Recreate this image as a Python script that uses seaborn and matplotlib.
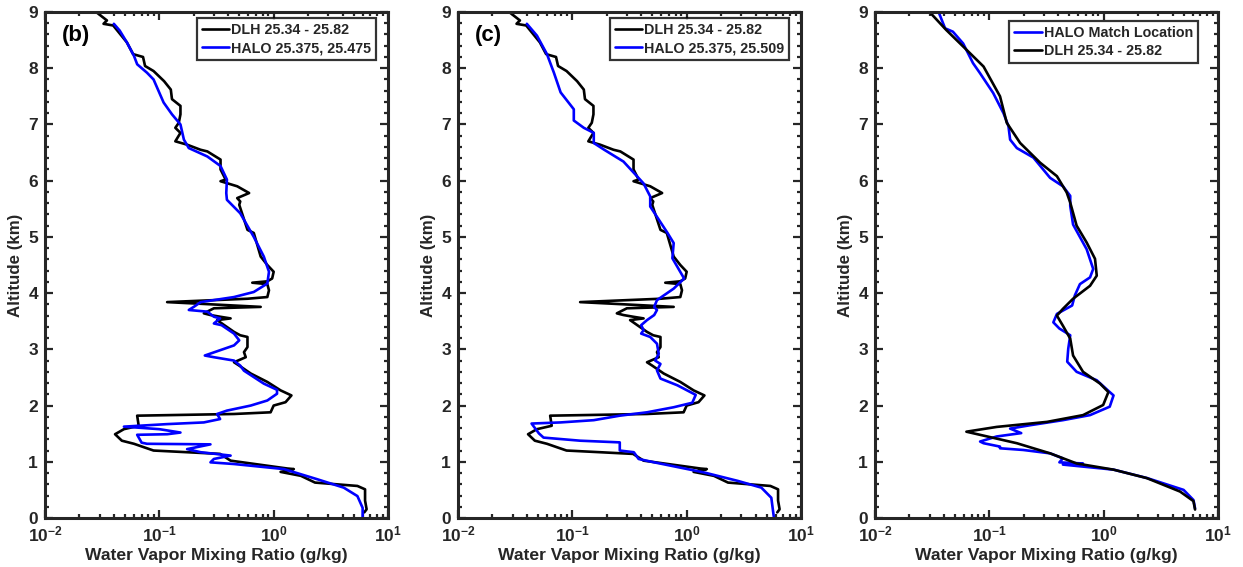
import numpy as np
import pandas as pd
import matplotlib
matplotlib.use("Agg")
import matplotlib.pyplot as plt
import seaborn as sns
from matplotlib.ticker import FixedLocator, FuncFormatter, LogLocator, NullFormatter, MultipleLocator

# ---------------- data ----------------
dlh_alt = [8.99, 8.85, 8.79, 8.76, 8.46, 8.25, 8.2, 8.04, 7.95, 7.77, 7.62, 7.45, 7.33, 7.18, 7.03, 6.94,
           6.85, 6.70, 6.64, 6.55, 6.52, 6.375, 6.20, 6.02, 5.99, 5.90, 5.78, 5.69, 5.63, 5.57, 5.125, 5.07,
           4.65, 4.5, 4.38, 4.26, 4.21, 4.185, 4.16, 4.05, 3.93, 3.90, 3.84, 3.81, 3.755, 3.73, 3.64, 3.61,
           3.58, 3.55, 3.52, 3.43, 3.31, 3.25, 3.22, 3.04, 2.95, 2.86, 2.77, 2.71, 2.57, 2.42, 2.27, 2.18,
           2.06, 2.0, 1.88, 1.85, 1.82, 1.64, 1.58, 1.49, 1.375, 1.32, 1.26, 1.20, 1.17, 1.14, 1.02, 0.88,
           0.87, 0.82, 0.75, 0.63, 0.57, 0.51, 0.31, 0.155, 0.10]
dlh_q = [0.0284, 0.0348, 0.0325, 0.0395, 0.052, 0.059, 0.072, 0.075, 0.089, 0.11, 0.126, 0.129, 0.153, 0.153,
         0.148, 0.138, 0.153, 0.138, 0.175, 0.229, 0.263, 0.343, 0.343, 0.38, 0.343, 0.48, 0.61, 0.48, 0.51,
         0.50, 0.59, 0.67, 0.77, 0.88, 1.0, 0.97, 0.88, 0.65, 0.88, 0.91, 0.88, 0.59, 0.117, 0.23, 0.77, 0.30,
         0.245, 0.28, 0.34, 0.42, 0.32, 0.37, 0.45, 0.51, 0.59, 0.59, 0.55, 0.57, 0.45, 0.50, 0.63, 0.88, 1.15,
         1.43, 1.27, 1.0, 0.94, 0.45, 0.064, 0.066, 0.049, 0.041, 0.047, 0.060, 0.073, 0.089, 0.175, 0.34,
         0.42, 1.32, 1.5, 1.15, 1.73, 2.3, 5.4, 6.3, 6.3, 6.5, 6.2]

halo_b_alt = [8.79, 8.67, 8.46, 8.22, 8.07, 7.92, 7.80, 7.39, 7.18, 7.0, 6.73, 6.58, 6.43, 6.26, 6.02, 5.78,
              5.66, 5.42, 5.0, 4.65, 4.38, 4.17, 4.02, 3.93, 3.84, 3.755, 3.70, 3.67, 3.58, 3.55, 3.46, 3.43,
              3.28, 3.16, 3.07, 3.01, 2.89, 2.86, 2.80, 2.71, 2.62, 2.39, 2.28, 2.21, 2.09, 2.0, 1.91, 1.85,
              1.76, 1.70, 1.67, 1.625, 1.58, 1.52, 1.49, 1.48, 1.34, 1.32, 1.31, 1.225, 1.17, 1.11, 1.05, 0.99,
              0.96, 0.87, 0.69, 0.54, 0.39, 0.18, 0.02]
halo_b_q = [0.040, 0.045, 0.052, 0.060, 0.064, 0.078, 0.089, 0.109, 0.129, 0.153, 0.164, 0.181, 0.263, 0.343,
            0.39, 0.385, 0.39, 0.51, 0.67, 0.82, 0.91, 0.88, 0.67, 0.45, 0.23, 0.20, 0.181, 0.263, 0.30, 0.34,
            0.30, 0.35, 0.45, 0.50, 0.45, 0.37, 0.25, 0.30, 0.45, 0.51, 0.55, 0.82, 1.07, 1.07, 0.88, 0.63,
            0.39, 0.32, 0.34, 0.245, 0.117, 0.049, 0.10, 0.153, 0.117, 0.064, 0.070, 0.078, 0.28, 0.175, 0.23,
            0.42, 0.30, 0.28, 0.45, 1.23, 2.4, 4.1, 5.4, 6.0, 6.0]

halo_c_alt = [8.79, 8.58, 8.25, 7.92, 7.57, 7.27, 7.07, 6.94, 6.85, 6.67, 6.55, 6.34, 6.14, 5.95, 5.72, 5.54,
              5.07, 4.89, 4.62, 4.26, 4.08, 3.875, 3.755, 3.70, 3.61, 3.52, 3.43, 3.34, 3.28, 3.22, 3.10, 2.92,
              2.80, 2.74, 2.625, 2.48, 2.36, 2.19, 2.05, 1.97, 1.88, 1.82, 1.74, 1.70, 1.68, 1.505, 1.43, 1.375,
              1.345, 1.20, 1.17, 1.05, 0.99, 0.81, 0.66, 0.54, 0.36, 0.0]
halo_c_q = [0.040, 0.049, 0.060, 0.069, 0.079, 0.103, 0.103, 0.126, 0.154, 0.154, 0.19, 0.28, 0.345, 0.42, 0.48,
            0.48, 0.68, 0.77, 0.75, 0.95, 0.77, 0.55, 0.52, 0.55, 0.52, 0.45, 0.40, 0.42, 0.40, 0.48, 0.55,
            0.57, 0.53, 0.59, 0.55, 0.59, 0.83, 1.2, 1.12, 0.77, 0.45, 0.26, 0.154, 0.079, 0.044, 0.051, 0.056,
            0.117, 0.26, 0.26, 0.345, 0.38, 0.52, 1.42, 2.8, 4.5, 5.5, 5.8]

dlh_s_alt = [9.0, 8.68, 8.33, 8.03, 7.5, 7.03, 6.67, 6.32, 6.08, 5.79, 5.61, 5.20, 4.90, 4.61, 4.31, 4.13, 3.90,
             3.72, 3.60, 3.42, 3.19, 2.89, 2.60, 2.39, 2.24, 2.01, 1.83, 1.71, 1.62, 1.535, 1.45, 1.33, 1.15,
             0.97, 0.86, 0.71, 0.47, 0.30, 0.15]
dlh_s_q = [0.030, 0.042, 0.063, 0.089, 0.124, 0.142, 0.186, 0.278, 0.39, 0.475, 0.51, 0.58, 0.71, 0.84, 0.87,
           0.76, 0.54, 0.44, 0.39, 0.44, 0.51, 0.54, 0.66, 0.93, 1.10, 0.99, 0.66, 0.32, 0.116, 0.063, 0.096,
           0.174, 0.34, 0.58, 1.22, 2.38, 4.66, 6.1, 6.3]

halo_m_alt = [9.0, 8.71, 8.65, 8.44, 8.09, 7.91, 7.56, 7.20, 6.97, 6.73, 6.58, 6.41, 6.05, 5.90, 5.73, 5.55,
              5.22, 4.78, 4.43, 4.28, 4.16, 3.96, 3.78, 3.63, 3.48, 3.37, 3.25, 3.01, 2.78, 2.60, 2.45, 2.24,
              2.18, 1.98, 1.83, 1.74, 1.65, 1.59, 1.51, 1.45, 1.36, 1.33, 1.27, 1.24, 1.21, 1.15, 1.06, 0.99,
              0.97, 0.95, 0.86, 0.71, 0.50, 0.32, 0.17]
halo_m_q = [0.036, 0.041, 0.048, 0.059, 0.072, 0.083, 0.108, 0.133, 0.147, 0.152, 0.174, 0.243, 0.34, 0.44,
            0.51, 0.51, 0.54, 0.71, 0.81, 0.76, 0.62, 0.56, 0.53, 0.39, 0.363, 0.41, 0.51, 0.49, 0.48, 0.58,
            0.87, 1.13, 1.22, 1.13, 0.76, 0.44, 0.227, 0.152, 0.19, 0.116, 0.083, 0.089, 0.124, 0.124, 0.198,
            0.34, 0.44, 0.41, 0.66, 0.44, 1.22, 2.4, 5.0, 6.1, 6.3]

panel_labels = ["(b)", "(c)", ""]
x_ticks = [1e-2, 1e-1, 1e0, 1e1]
y_ticks = list(range(0, 10))

# ---------------- style ----------------
sns.set_theme(style="ticks")
plt.rcParams["font.family"] = ["Liberation Sans", "DejaVu Sans"]
plt.rcParams["font.weight"] = "bold"
plt.rcParams["mathtext.fontset"] = "custom"
plt.rcParams["mathtext.rm"] = "Liberation Sans:bold"
plt.rcParams["mathtext.bf"] = "Liberation Sans:bold"
plt.rcParams["mathtext.default"] = "bf"
plt.rcParams["axes.unicode_minus"] = False

fig = plt.figure(figsize=(12.43, 5.67), dpi=100)
lefts = [45 / 1243, 458 / 1243, 875 / 1243]
W = 343 / 1243
B = 1 - 518 / 567
H = (518 - 12) / 567

panels = [
    [("DLH 25.34 - 25.82", dlh_alt, dlh_q, "black"), ("HALO 25.375, 25.475", halo_b_alt, halo_b_q, "#0000ff")],
    [("DLH 25.34 - 25.82", dlh_alt, dlh_q, "black"), ("HALO 25.375, 25.509", halo_c_alt, halo_c_q, "#0000ff")],
    [("HALO Match Location", halo_m_alt, halo_m_q, "#0000ff"), ("DLH 25.34 - 25.82", dlh_s_alt, dlh_s_q, "black")],
]
leg_anchor = [(1 - 12 / 343, 1 - 6 / 506), (1 - 12 / 343, 1 - 6 / 506), (1 - 20 / 343, 1 - 9 / 506)]

frame_col = "#262626"
for i, series in enumerate(panels):
    ax = fig.add_axes([lefts[i], B, W, H])
    for name, alt, q, col in series:
        df = pd.DataFrame({"q": q, "alt": alt})
        sns.lineplot(data=df, x="q", y="alt", sort=False, estimator=None, color=col,
                     linewidth=1.9, ax=ax, label=name)
    ax.set_xscale("log")
    ax.set_xlim(1e-2, 1e1)
    ax.set_ylim(0, 9)
    ax.xaxis.set_major_locator(FixedLocator(x_ticks))
    ax.xaxis.set_minor_locator(LogLocator(base=10, subs=np.arange(2, 10)))
    ax.xaxis.set_minor_formatter(NullFormatter())
    ax.xaxis.set_major_formatter(FuncFormatter(lambda v, p: r"$\mathbf{10^{%d}}$" % int(round(np.log10(v)))))
    ax.yaxis.set_major_locator(FixedLocator(y_ticks))
    ax.yaxis.set_minor_locator(MultipleLocator(0.2))
    ax.tick_params(which="both", direction="in", top=True, right=True, color=frame_col, width=1.6,
                   labelsize=12.5, labelcolor=frame_col)
    ax.tick_params(which="major", length=6, pad=5)
    ax.tick_params(which="minor", length=3)
    for lab in ax.get_yticklabels():
        lab.set_fontweight("bold")
    for sp in ax.spines.values():
        sp.set_linewidth(2.2)
        sp.set_color(frame_col)
    ax.set_xlabel("Water Vapor Mixing Ratio (g/kg)", fontsize=12.6, fontweight="bold", color=frame_col, labelpad=2)
    ax.set_ylabel("Altitude (km)", fontsize=12.2, fontweight="bold", color=frame_col, labelpad=4)
    leg = ax.legend(loc="upper right", bbox_to_anchor=leg_anchor[i], fontsize=10.3, frameon=True,
                    fancybox=False, handlelength=1.9, handletextpad=0.15, borderpad=0.35,
                    labelspacing=0.3, borderaxespad=0.0)
    leg.get_frame().set_edgecolor("black")
    leg.get_frame().set_linewidth(1.6)
    for t in leg.get_texts():
        t.set_fontweight("bold")
    if panel_labels[i]:
        ax.text(0.05, 0.953, panel_labels[i], transform=ax.transAxes, fontsize=16, fontweight="bold",
                va="center", ha="left", color="black")

fig.savefig("out.png", dpi=100)
